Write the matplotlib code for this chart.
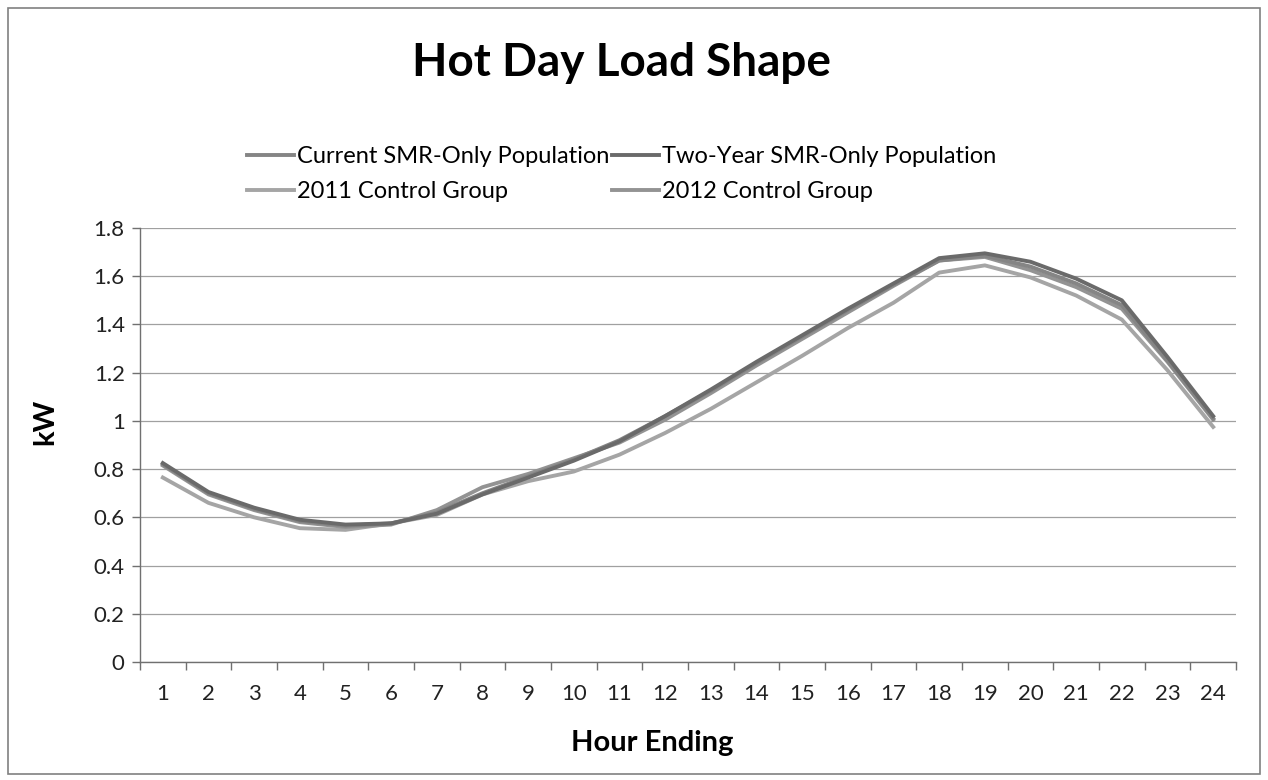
import matplotlib
matplotlib.use("Agg")
import matplotlib.pyplot as plt
from matplotlib.patches import Rectangle

plt.rcParams['font.family'] = ['Lato', 'DejaVu Sans']

hours = list(range(1, 25))
current_smr = [0.82, 0.70, 0.635, 0.585, 0.565, 0.575, 0.62, 0.70, 0.77, 0.84, 0.92, 1.02,
               1.125, 1.24, 1.35, 1.46, 1.565, 1.665, 1.685, 1.64, 1.57, 1.48, 1.25, 1.01]
two_year_smr = [0.825, 0.705, 0.64, 0.59, 0.57, 0.575, 0.615, 0.695, 0.765, 0.835, 0.915, 1.02,
                1.13, 1.245, 1.355, 1.465, 1.57, 1.675, 1.695, 1.66, 1.59, 1.50, 1.265, 1.02]
control_2011 = [0.765, 0.66, 0.60, 0.555, 0.548, 0.575, 0.61, 0.695, 0.75, 0.79, 0.86, 0.95,
                1.05, 1.16, 1.27, 1.385, 1.49, 1.615, 1.645, 1.595, 1.52, 1.42, 1.21, 0.975]
control_2012 = [0.815, 0.695, 0.63, 0.58, 0.56, 0.57, 0.63, 0.725, 0.78, 0.845, 0.91, 1.005,
                1.115, 1.23, 1.34, 1.45, 1.56, 1.665, 1.68, 1.625, 1.555, 1.465, 1.245, 1.005]
series_names = ["Current SMR-Only Population", "Two-Year SMR-Only Population",
                "2011 Control Group", "2012 Control Group"]
yticks = [0, 0.2, 0.4, 0.6, 0.8, 1.0, 1.2, 1.4, 1.6, 1.8]
ytick_labels = ["0", "0.2", "0.4", "0.6", "0.8", "1", "1.2", "1.4", "1.6", "1.8"]

fig = plt.figure(figsize=(12.68, 7.80), dpi=100)
fig.patches.append(Rectangle((8/1268, 6/780), 1252/1268, 766/780, transform=fig.transFigure,
                             fill=False, edgecolor='#808080', linewidth=1.2))
ax = fig.add_axes([140/1268, 1-662/780, 1096/1268, (662-228)/780])

colors = ['#858585', '#6a6a6a', '#a5a5a5', '#939393']
data = [current_smr, two_year_smr, control_2011, control_2012]
order = [2, 3, 0, 1]
lines = {}
for i in order:
    l, = ax.plot(hours, data[i], color=colors[i], linewidth=2.8, solid_joinstyle='round')
    lines[i] = l

ax.set_xlim(0.5, 24.5)
ax.set_ylim(0, 1.8)
ax.set_yticks(yticks)
ax.set_yticklabels(ytick_labels)
ax.set_xticks(hours)
ax.set_xticks([h + 0.5 for h in range(0, 25)], minor=True)
ax.tick_params(axis='x', which='major', length=0, labelsize=16, pad=16, colors='#222222')
ax.tick_params(axis='x', which='minor', length=6, width=1, color='#707070', direction='out')
ax.tick_params(axis='y', which='major', length=6, width=1, labelsize=16, pad=5,
               colors='#222222')
ax.tick_params(axis='y', which='major', color='#707070')
ax.grid(axis='y', color='#a0a0a0', linewidth=0.9)
ax.set_axisbelow(True)
for s in ['top', 'right']:
    ax.spines[s].set_visible(False)
for s in ['left', 'bottom']:
    ax.spines[s].set_color('#707070')
    ax.spines[s].set_linewidth(1.0)

ax.set_ylabel("kW", fontsize=21, fontweight='bold')
ax.yaxis.set_label_coords(-0.075, 0.553)
ax.set_xlabel("Hour Ending", fontsize=21, fontweight='bold')
ax.xaxis.set_label_coords(0.467, -0.157)
fig.text(0.49, 1-63/780, "Hot Day Load Shape", ha='center', va='center',
         fontsize=33, fontweight='bold')

handles = [lines[0], lines[2], lines[1], lines[3]]
labels = [series_names[0], series_names[2], series_names[1], series_names[3]]
fig.legend(handles, labels, ncol=2, loc='center left',
           bbox_to_anchor=(226/1268, 1-174/780), frameon=False, fontsize=17,
           handlelength=2.0, handletextpad=0.12, columnspacing=0.1, labelspacing=0.6)

fig.savefig("out.png", dpi=100)
